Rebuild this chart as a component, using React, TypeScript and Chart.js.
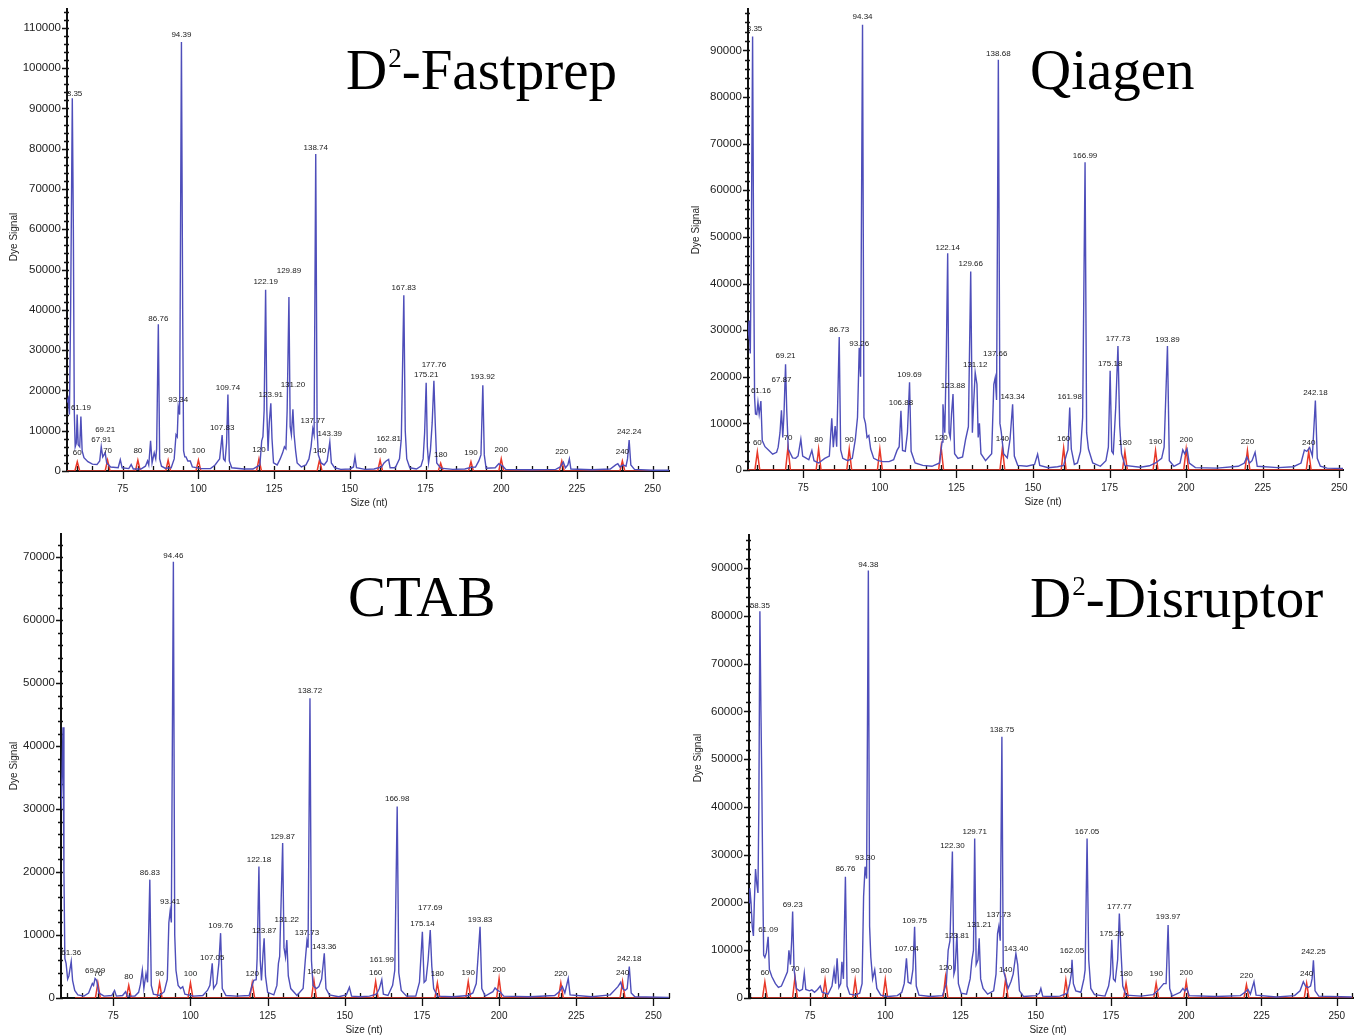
import React, { useEffect, useRef } from "react";
import { Chart, registerables } from "chart.js";
Chart.register(...registerables);

type Pt = [number, number];

// ---------------- shared ticks / size standard ----------------
const xTickValues = [75, 100, 125, 150, 175, 200, 225, 250];
const stdSizes = [60, 70, 80, 90, 100, 120, 140, 160, 180, 190, 200, 220, 240];
const stdSizesCtab = [70, 80, 90, 100, 120, 140, 160, 180, 190, 200, 220, 240];

const yTicksFastprep = [0, 10000, 20000, 30000, 40000, 50000, 60000, 70000, 80000, 90000, 100000, 110000];
const yTicksQiagen = [0, 10000, 20000, 30000, 40000, 50000, 60000, 70000, 80000, 90000];
const yTicksCtab = [0, 10000, 20000, 30000, 40000, 50000, 60000, 70000];
const yTicksDisruptor = [0, 10000, 20000, 30000, 40000, 50000, 60000, 70000, 80000, 90000];

// ---------------- D2-Fastprep ----------------
const fastprepTrace: Pt[] = [
  [56.6, 17000], [57.0, 18000], [57.4, 14000], [57.8, 40000], [58.35, 92500], [58.7, 60000], [59.0, 15000],
  [59.3, 6000], [59.7, 7000], [59.95, 14000], [60.3, 6500], [60.8, 6000], [61.19, 13500], [61.6, 5000],
  [62.2, 3300], [63.5, 2300], [65, 1700], [66.5, 1600], [67.4, 2500], [67.91, 6000], [68.4, 3500],
  [69.21, 4500], [69.7, 2000], [71, 1000], [73.5, 800], [74.2, 2800], [74.8, 800], [77, 600], [77.8, 1600],
  [78.5, 500], [81, 500], [82.5, 1200], [83.2, 2500], [83.6, 1500], [84.2, 7500], [84.7, 2000], [85.4, 4500],
  [85.9, 3000], [86.2, 5500], [86.76, 36400], [87.2, 3000], [87.8, 1200], [89, 700], [91, 800], [92.0, 3000],
  [92.6, 9000], [93.0, 8500], [93.34, 16000], [93.8, 14000], [94.39, 106500], [94.8, 40000], [95.1, 5000],
  [95.5, 3500], [95.9, 3500], [96.5, 2500], [97.3, 2500], [98, 1000], [101, 600], [104, 600], [105.5, 1500],
  [106.5, 2500], [107.0, 3000], [107.83, 8900], [108.3, 3000], [108.8, 2500], [109.3, 7000], [109.74, 19000],
  [110.2, 2500], [111, 800], [115, 500], [118, 500], [120.3, 1500], [120.9, 7500], [121.3, 8500], [121.7, 15000],
  [122.19, 45000], [122.6, 15000], [123.0, 5000], [123.4, 12000], [123.91, 16800], [124.3, 8000], [124.8, 2000],
  [126, 1500], [127, 3000], [127.8, 4500], [128.4, 6000], [128.9, 5500], [129.3, 15000], [129.89, 43200],
  [130.3, 11000], [130.7, 9000], [131.2, 15300], [131.6, 9000], [132.1, 5000], [132.6, 2000], [134, 1000],
  [135.5, 1500], [136.5, 3000], [137.2, 6000], [137.77, 10500], [138.2, 9000], [138.74, 78700], [139.2, 10000],
  [139.6, 4000], [140.5, 2000], [141.5, 1500], [142.5, 2500], [143.39, 7200], [143.9, 2000], [145, 800],
  [147, 400], [150, 500], [151.2, 1000], [151.7, 3500], [152.2, 800], [155, 400], [158, 500], [160.5, 1000],
  [161.3, 2000], [162.0, 2500], [162.81, 2900], [163.3, 800], [165, 800], [166.4, 3000], [167.0, 8000],
  [167.83, 43600], [168.3, 10000], [168.8, 3000], [169.8, 800], [172, 500], [173.5, 1200], [174.2, 3000],
  [174.7, 9500], [175.21, 21900], [175.6, 6000], [176.0, 2000], [176.6, 5000], [177.2, 12000], [177.76, 22400],
  [178.2, 12000], [178.7, 2000], [180, 700], [184, 400], [188, 500], [190, 900], [191.5, 1000], [192.6, 2500],
  [193.3, 4000], [193.92, 21300], [194.4, 4000], [195, 700], [198, 800], [199.2, 1800], [199.8, 1500],
  [200.5, 1200], [201.5, 400], [210, 300], [218, 400], [219.5, 1000], [220.5, 2200], [221.2, 800], [222.0, 1500],
  [222.5, 3000], [223, 500], [230, 300], [236, 500], [237.8, 1500], [238.5, 1800], [239.2, 1000], [240.3, 1500],
  [241.2, 1200], [241.7, 3000], [242.24, 7700], [242.8, 1500], [244, 400], [250, 200], [255.5, 200],
];
const fastprepStdHeights = [2300, 2700, 2700, 2700, 2700, 3000, 2800, 2700, 1900, 2300, 3000, 2500, 2500];
// [peak size (label text), label height]
const fastprepLabels: Pt[] = [
  [58.35, 93700], [61.19, 15700], [67.91, 7700], [69.21, 10200], [86.76, 37800], [93.34, 17600],
  [94.39, 108300], [107.83, 10600], [109.74, 20700], [122.19, 46900], [123.91, 18800], [129.89, 49600],
  [131.2, 21300], [137.77, 12400], [138.74, 80300], [143.39, 9300], [162.81, 8100], [167.83, 45500],
  [175.21, 23800], [177.76, 26400], [193.92, 23400], [242.24, 9700],
];

// ---------------- Qiagen ----------------
const qiagenTrace: Pt[] = [
  [56.9, 28000], [57.3, 32000], [57.7, 25000], [58.0, 45000], [58.45, 93000], [58.8, 45000], [59.1, 15600],
  [59.4, 12000], [59.8, 11900], [60.2, 14500], [60.6, 12000], [61.16, 14800], [61.6, 6300], [62.5, 5000],
  [63.8, 4200], [65, 3400], [66.3, 3800], [66.8, 4900], [67.4, 8000], [67.87, 12800], [68.3, 7000],
  [68.7, 12000], [69.21, 22700], [69.6, 12700], [70.1, 4500], [71.5, 2600], [72.5, 2500], [73.3, 3000],
  [74.2, 6600], [74.8, 3000], [75.8, 2600], [76.8, 2200], [77.8, 4200], [78.5, 2000], [80, 1500], [82, 2500],
  [83.5, 3000], [84.3, 11100], [84.8, 4900], [85.4, 9400], [85.9, 5000], [86.73, 28500], [87.2, 4300],
  [87.9, 2500], [89.5, 2000], [91.0, 2500], [92.0, 6600], [92.7, 11300], [93.26, 26200], [93.7, 20000],
  [94.34, 95500], [94.8, 11300], [95.3, 10000], [95.8, 7000], [96.4, 7400], [97.0, 4500], [98.0, 2500],
  [99.5, 2000], [101, 1800], [103, 1800], [104.5, 2200], [105.6, 4200], [106.3, 5000], [106.88, 12700],
  [107.4, 4200], [108.3, 4000], [109.0, 8000], [109.69, 18800], [110.2, 4000], [111.5, 1500], [114, 1000],
  [117, 800], [119.5, 1500], [120.3, 6000], [120.6, 14100], [121.2, 8000], [121.7, 25000], [122.14, 46500],
  [122.6, 8000], [123.0, 7000], [123.4, 12000], [123.88, 16300], [124.4, 3500], [125.5, 2500], [127, 2800],
  [128.0, 6600], [128.9, 9300], [129.66, 42600], [130.2, 8000], [130.6, 14000], [131.12, 20900], [131.7, 18400],
  [132.1, 7000], [132.5, 10000], [133.0, 3500], [134.5, 2000], [136.5, 3500], [137.2, 18400], [137.66, 19800],
  [138.1, 15000], [138.68, 88000], [139.2, 10000], [139.6, 8300], [140.4, 3500], [141.6, 2600], [142.5, 6600],
  [143.34, 14100], [143.9, 3000], [145, 1000], [148, 800], [150.5, 1200], [151.5, 3400], [152.2, 1000],
  [155, 500], [158, 700], [160.0, 1000], [161.0, 3500], [161.4, 4300], [161.98, 13400], [162.5, 4500],
  [163.5, 1200], [164.5, 1500], [165.5, 4000], [166.2, 11200], [166.99, 66000], [167.5, 8000], [168.1, 4500],
  [169.5, 1500], [172, 800], [173.8, 2000], [174.6, 4900], [175.18, 21300], [175.7, 4000], [176.2, 3500],
  [177.0, 13400], [177.73, 26600], [178.3, 9500], [178.9, 3500], [180, 1000], [185, 600], [188, 900],
  [190, 1500], [192.0, 2500], [192.8, 4900], [193.89, 26600], [194.5, 2000], [196, 800], [198, 1500],
  [198.9, 4300], [199.5, 3500], [200.3, 4500], [201, 1500], [203, 500], [210, 400], [217, 800], [219.0, 1500],
  [219.8, 2800], [220.7, 1500], [221.5, 2000], [222.5, 3800], [223.2, 800], [230, 500], [235, 700],
  [237.5, 1500], [238.6, 4300], [239.4, 4000], [240.3, 4800], [241.2, 3000], [242.18, 14900], [242.8, 2500],
  [243.8, 800], [246, 400], [252, 300],
];
const qiagenStdHeights = [3900, 4900, 4500, 4500, 4500, 4900, 4700, 4700, 3900, 4200, 4500, 4200, 3900];
const qiagenLabels: Pt[] = [
  [58.35, 94600], [61.16, 17000], [67.87, 19300], [69.21, 24600], [86.73, 30000], [93.26, 27000],
  [94.34, 97100], [106.88, 14500], [109.69, 20400], [122.14, 47600], [123.88, 18100], [129.66, 44300],
  [131.12, 22500], [137.66, 25000], [138.68, 89300], [143.34, 15800], [161.98, 15800], [166.99, 67400],
  [175.18, 22800], [177.73, 28200], [193.89, 28000], [242.18, 16500],
];

// ---------------- CTAB ----------------
const ctabTrace: Pt[] = [
  [58.05, 30000], [58.4, 36000], [58.7, 43000], [59.0, 20000], [59.3, 6300], [59.7, 5500], [60.2, 3000],
  [60.6, 3500], [61.36, 5800], [61.8, 2800], [62.5, 1200], [63.5, 500], [65.5, 300], [67.0, 800], [68.2, 2300],
  [68.6, 2000], [69.09, 3100], [69.6, 2800], [70.3, 800], [72, 300], [74.5, 400], [75.4, 1200], [76, 300],
  [78, 400], [79, 1000], [79.5, 300], [82, 300], [83.2, 900], [83.8, 2200], [84.4, 4400], [84.9, 1500],
  [85.6, 3900], [86.1, 2500], [86.83, 18800], [87.3, 2000], [88.0, 600], [90, 400], [91.5, 1000], [92.5, 3000],
  [93.0, 12000], [93.41, 13800], [93.8, 12000], [94.46, 69300], [94.9, 10000], [95.3, 4400], [96.0, 2000],
  [96.8, 1500], [97.5, 1800], [98.2, 600], [101, 300], [104, 400], [105.5, 1200], [106.3, 2000], [107.05, 5500],
  [107.5, 1500], [108.5, 2300], [109.2, 5500], [109.76, 10300], [110.3, 1500], [111.5, 400], [115, 300],
  [119, 400], [120.5, 2800], [121.3, 2900], [121.6, 6300], [122.18, 20900], [122.6, 6000], [123.0, 2800],
  [123.5, 7000], [123.87, 9500], [124.3, 3500], [125, 900], [127, 500], [128.0, 2000], [128.5, 5500],
  [128.9, 6600], [129.3, 14000], [129.87, 24600], [130.3, 8000], [130.8, 6500], [131.22, 9200], [131.7, 3500],
  [132.5, 1500], [134.5, 400], [136.5, 1500], [137.2, 6000], [137.73, 9000], [138.1, 8000], [138.72, 47600],
  [139.2, 6000], [139.7, 2000], [140.8, 1500], [141.6, 1800], [142.5, 3000], [143.36, 7100], [143.9, 1500],
  [145, 500], [148, 200], [150.5, 500], [151.5, 1700], [152.2, 300], [155, 200], [158, 300], [160.3, 600],
  [161.2, 1500], [161.99, 2900], [162.5, 600], [164, 400], [165.5, 2000], [166.2, 4400], [166.98, 30400],
  [167.5, 4000], [168.3, 1200], [170, 300], [173, 300], [174.2, 2500], [175.14, 10500], [175.7, 2500],
  [176.3, 2800], [177.0, 6000], [177.69, 10800], [178.2, 5000], [178.8, 1500], [180, 300], [185, 200],
  [190, 400], [191.5, 800], [192.6, 2300], [193.83, 11300], [194.4, 1500], [195.5, 300], [198, 1000],
  [198.7, 1600], [199.5, 1200], [200.3, 1000], [201.5, 300], [210, 200], [218, 400], [219.5, 1000],
  [220.5, 1800], [221.3, 800], [222.4, 3100], [223, 500], [230, 200], [236, 500], [238.5, 1800], [239.4, 2500],
  [240.0, 1500], [240.8, 1200], [241.5, 1500], [242.18, 5000], [242.8, 800], [244, 200], [255, 100],
];
const ctabStdHeights = [2400, 2000, 2400, 2400, 2400, 2800, 2600, 2400, 2600, 3100, 2400, 2600];
const ctabLabels: Pt[] = [
  [61.36, 7200], [69.09, 4300], [86.83, 19900], [93.41, 15300], [94.46, 70200], [107.05, 6400],
  [109.76, 11400], [122.18, 21900], [123.87, 10700], [129.87, 25600], [131.22, 12400], [137.73, 10300],
  [138.72, 48800], [143.36, 8200], [161.99, 6100], [166.98, 31600], [175.14, 11800], [177.69, 14300],
  [193.83, 12500], [242.18, 6300],
];

// ---------------- D2-Disruptor ----------------
const disruptorTrace: Pt[] = [
  [54.73, 20000], [55.0, 23000], [55.4, 20000], [55.8, 15000], [56.2, 13000], [56.5, 20000], [56.9, 27000],
  [57.3, 24000], [57.7, 22000], [58.0, 40000], [58.35, 81000], [58.7, 60000], [59.0, 44200], [59.3, 25000],
  [59.6, 9000], [60.0, 8500], [60.5, 9500], [61.09, 12800], [61.5, 6000], [62.3, 4500], [63.5, 3000],
  [64.5, 2200], [65.5, 2500], [66.5, 4000], [67.5, 5500], [68.0, 10000], [68.5, 7000], [68.9, 12000],
  [69.23, 18100], [69.7, 6000], [70.5, 2000], [71.5, 1500], [72.5, 1800], [73.1, 5200], [73.6, 1800],
  [74.8, 1500], [75.6, 1700], [76.5, 1200], [77.5, 1800], [78.4, 2500], [79, 1200], [81, 800], [82.3, 2500],
  [83.0, 5900], [83.5, 3000], [84.0, 8300], [84.6, 2200], [85.2, 3000], [85.6, 7600], [86.1, 4000],
  [86.76, 25400], [87.3, 2500], [88.2, 800], [90, 600], [91.5, 1000], [92.3, 3000], [92.8, 21200], [93.3, 27500],
  [93.8, 25000], [94.38, 89500], [94.8, 15000], [95.2, 8600], [95.8, 4000], [96.5, 5900], [97.2, 2000],
  [98.5, 600], [101, 300], [104, 500], [105.5, 1200], [106.3, 3000], [107.04, 8300], [107.6, 3300],
  [108.5, 3000], [109.2, 6000], [109.75, 14900], [110.3, 2500], [111.2, 600], [115, 300], [119, 500],
  [120.3, 3000], [120.9, 10000], [121.5, 12000], [122.3, 30700], [122.8, 5000], [123.2, 6000], [123.81, 13500],
  [124.3, 3000], [125.2, 1000], [127, 800], [128.2, 4000], [128.8, 8000], [129.3, 10000], [129.71, 33400],
  [130.2, 7000], [130.8, 8000], [131.21, 12500], [131.7, 4000], [132.5, 2000], [134, 800], [136, 1500],
  [136.8, 5000], [137.3, 13500], [137.73, 15000], [138.2, 12000], [138.75, 54700], [139.2, 6000], [139.8, 4500],
  [140.8, 2000], [141.8, 3500], [142.5, 5000], [143.4, 9300], [144.0, 7000], [144.6, 1500], [146, 300],
  [150, 500], [151.2, 1000], [151.7, 2000], [152.3, 400], [155, 300], [158, 400], [160.5, 1000], [161.3, 3000],
  [161.8, 5000], [162.05, 8000], [162.5, 3000], [163.3, 1500], [165, 1200], [166.0, 4000], [166.4, 5900],
  [167.05, 33400], [167.6, 8000], [168.3, 2000], [169.5, 700], [173, 400], [174.2, 2500], [174.8, 5000],
  [175.26, 12200], [175.8, 4000], [176.4, 3500], [177.2, 8000], [177.77, 17700], [178.3, 10000], [178.9, 2500],
  [180, 600], [185, 400], [189, 700], [190.5, 1500], [192.5, 3000], [193.3, 3000], [193.97, 15300],
  [194.5, 2000], [195.3, 400], [198, 1200], [198.9, 2000], [199.5, 1500], [200.2, 2000], [201, 500], [210, 300],
  [218, 500], [219.5, 1200], [220.5, 1800], [221.3, 800], [222.5, 3400], [223.2, 600], [230, 200], [236, 500],
  [237.8, 1500], [238.9, 3400], [239.6, 2500], [240.5, 2200], [241.3, 2500], [241.8, 4000], [242.25, 7900],
  [242.8, 1500], [244, 400], [255, 200],
];
const disruptorStdHeights = [3400, 4300, 3800, 3800, 3900, 4400, 4100, 3800, 3100, 3100, 3400, 2800, 3100];
const disruptorLabels: Pt[] = [
  [58.35, 82100], [61.09, 14200], [69.23, 19500], [86.76, 27000], [93.3, 29400], [94.38, 90800],
  [107.04, 10200], [109.75, 16100], [122.3, 31900], [123.81, 13100], [129.71, 34800], [131.21, 15300],
  [137.73, 17500], [138.75, 56100], [143.4, 10400], [162.05, 9800], [167.05, 34800], [175.26, 13500],
  [177.77, 19100], [193.97, 17000], [242.25, 9700],
];

// ---------------- panel layout ----------------
interface PanelDef {
  key: string;
  titleLead: string; // text before superscript
  titleSup: string; // superscript part
  titleRest: string;
  left: number; top: number; w: number; h: number;
  ca: { l: number; t: number; r: number; b: number };
  xMin: number; xMax: number; yMax: number;
  yTicks: number[];
  trace: Pt[];
  stdSizes: number[]; stdHeights: number[]; stdStart: number;
  labels: Pt[];
  titlePos: [number, number];
  dyePos: [number, number];
  sizePos: [number, number];
}

const panels: PanelDef[] = [
  {
    key: "fastprep", titleLead: "D", titleSup: "2", titleRest: "-Fastprep", left: 0, top: 0, w: 677, h: 518,
    ca: { l: 67, t: 8, r: 669, b: 471 }, xMin: 56.6, xMax: 255.4, yMax: 114700,
    yTicks: yTicksFastprep, trace: fastprepTrace, stdSizes, stdHeights: fastprepStdHeights, stdStart: 56.6,
    labels: fastprepLabels, titlePos: [346, 89], dyePos: [14, 237], sizePos: [369, 503],
  },
  {
    key: "qiagen", titleLead: "Qiagen", titleSup: "", titleRest: "", left: 677, top: 0, w: 678, h: 518,
    ca: { l: 71, t: 7, r: 666, b: 470 }, xMin: 56.95, xMax: 251.2, yMax: 98900,
    yTicks: yTicksQiagen, trace: qiagenTrace, stdSizes, stdHeights: qiagenStdHeights, stdStart: 56.95,
    labels: qiagenLabels, titlePos: [353, 89], dyePos: [19, 230], sizePos: [366, 502],
  },
  {
    key: "ctab", titleLead: "CTAB", titleSup: "", titleRest: "", left: 0, top: 518, w: 677, h: 518,
    ca: { l: 61, t: 16, r: 669, b: 480 }, xMin: 58.05, xMax: 255.05, yMax: 73700,
    yTicks: yTicksCtab, trace: ctabTrace, stdSizes: stdSizesCtab, stdHeights: ctabStdHeights, stdStart: 62.6,
    labels: ctabLabels, titlePos: [348, 98], dyePos: [14, 248], sizePos: [364, 512],
  },
  {
    key: "disruptor", titleLead: "D", titleSup: "2", titleRest: "-Disruptor", left: 677, top: 518, w: 678, h: 518,
    ca: { l: 72, t: 17, r: 676, b: 480 }, xMin: 54.73, xMax: 255.4, yMax: 96960,
    yTicks: yTicksDisruptor, trace: disruptorTrace, stdSizes, stdHeights: disruptorStdHeights, stdStart: 55.6,
    labels: disruptorLabels, titlePos: [353, 99], dyePos: [21, 240], sizePos: [371, 512],
  },
];

const SANS = '"Liberation Sans", Arial, Helvetica, sans-serif';
const SERIF = '"Liberation Serif", "Times New Roman", Times, serif';
const BLUE = "rgb(78,78,186)";
const RED = "rgb(232,56,40)";

function stdTrace(start: number, end: number, sizes: number[], heights: number[]) {
  const pts: { x: number; y: number }[] = [{ x: start, y: 0 }];
  sizes.forEach((s, i) => {
    pts.push({ x: s - 0.8, y: 0 }, { x: s, y: heights[i] }, { x: s + 0.8, y: 0 });
  });
  pts.push({ x: end, y: 0 });
  return pts;
}

function decorPlugin(p: PanelDef) {
  return {
    id: "decor-" + p.key,
    beforeDatasetsDraw(chart: any) {
      const { ctx, chartArea: ca } = chart;
      const xs = chart.scales.x;
      const ys = chart.scales.y;
      ctx.save();
      ctx.strokeStyle = "#111";
      ctx.lineWidth = 1.3;
      ctx.beginPath();
      for (let v = Math.ceil(p.xMin / 5) * 5; v <= p.xMax; v += 5) {
        const px = Math.round(xs.getPixelForValue(v)) + 0.5;
        const major = v % 25 === 0;
        ctx.moveTo(px, ca.bottom - 5);
        ctx.lineTo(px, ca.bottom + (major ? 8 : 0));
      }
      for (let v = 0; v <= p.yMax; v += 2000) {
        const py = Math.round(ys.getPixelForValue(v)) + 0.5;
        const major = v % 10000 === 0;
        ctx.moveTo(ca.left - (major ? 5 : 3), py);
        ctx.lineTo(ca.left + 2, py);
      }
      ctx.stroke();
      ctx.restore();
    },
    afterDatasetsDraw(chart: any) {
      const { ctx, chartArea: ca } = chart;
      const xs = chart.scales.x;
      const ys = chart.scales.y;
      ctx.save();
      ctx.beginPath();
      ctx.rect(ca.left + 1, 0, ca.right - ca.left, chart.height);
      ctx.clip();
      ctx.font = "8px " + SANS;
      ctx.fillStyle = "#1a1a1a";
      ctx.textAlign = "center";
      ctx.textBaseline = "middle";
      p.labels.forEach(([s, hgt]) => {
        ctx.fillText(s.toFixed(2), xs.getPixelForValue(s), ys.getPixelForValue(hgt));
      });
      p.stdSizes.forEach((s, i) => {
        ctx.fillText(String(s), xs.getPixelForValue(s), ys.getPixelForValue(p.stdHeights[i]) - 9);
      });
      ctx.restore();
    },
    afterDraw(chart: any) {
      const { ctx } = chart;
      ctx.save();
      ctx.fillStyle = "#000";
      ctx.textAlign = "left";
      ctx.textBaseline = "alphabetic";
      let x = p.titlePos[0];
      const y = p.titlePos[1];
      ctx.font = "57px " + SERIF;
      ctx.fillText(p.titleLead, x, y);
      x += ctx.measureText(p.titleLead).width;
      if (p.titleSup) {
        ctx.font = "27px " + SERIF;
        ctx.fillText(p.titleSup, x + 1, y - 22);
        x += ctx.measureText(p.titleSup).width + 1;
        ctx.font = "57px " + SERIF;
        ctx.fillText(p.titleRest, x, y);
      }
      ctx.fillStyle = "#222";
      ctx.font = "10px " + SANS;
      ctx.textAlign = "center";
      ctx.textBaseline = "middle";
      ctx.fillText("Size (nt)", p.sizePos[0], p.sizePos[1]);
      ctx.translate(p.dyePos[0], p.dyePos[1]);
      ctx.rotate(-Math.PI / 2);
      ctx.fillText("Dye Signal", 0, 0);
      ctx.restore();
    },
  };
}

function ChartPanel({ def }: { def: PanelDef }) {
  const ref = useRef<HTMLCanvasElement | null>(null);
  useEffect(() => {
    const canvas = ref.current;
    if (!canvas) return;
    const chart = new Chart(canvas, {
      type: "line",
      data: {
        datasets: [
          {
            data: def.trace.map(([x, y]) => ({ x, y })),
            borderColor: BLUE,
            borderWidth: 1.4,
            pointRadius: 0,
            tension: 0,
            fill: false,
          },
          {
            data: stdTrace(def.stdStart, def.xMax, def.stdSizes, def.stdHeights),
            borderColor: RED,
            borderWidth: 1.5,
            pointRadius: 0,
            tension: 0,
            fill: false,
          },
        ],
      },
      options: {
        animation: false,
        responsive: false,
        maintainAspectRatio: false,
        events: [],
        layout: { padding: { left: 0, top: def.ca.t, right: def.w - def.ca.r, bottom: 0 } },
        plugins: { legend: { display: false }, tooltip: { enabled: false }, title: { display: false } },
        scales: {
          x: {
            type: "linear",
            min: def.xMin,
            max: def.xMax,
            afterBuildTicks: (s: any) => {
              s.ticks = xTickValues.map((v) => ({ value: v }));
            },
            afterFit: (s: any) => {
              s.height = def.h - def.ca.b;
            },
            grid: { display: false, drawTicks: true, tickLength: 8 },
            border: { display: true, color: "#111", width: 2 },
            ticks: {
              autoSkip: false,
              maxRotation: 0,
              padding: 4,
              color: "#222",
              font: { family: SANS, size: 10 },
              callback: (v: any) => String(v),
            },
          },
          y: {
            type: "linear",
            min: 0,
            max: def.yMax,
            afterBuildTicks: (s: any) => {
              s.ticks = def.yTicks.map((v) => ({ value: v }));
            },
            afterFit: (s: any) => {
              s.width = def.ca.l;
            },
            grid: { display: false, drawTicks: true, tickLength: 4 },
            border: { display: true, color: "#111", width: 2 },
            ticks: {
              autoSkip: false,
              padding: 2,
              color: "#222",
              font: { family: SANS, size: 11.5 },
              callback: (v: any) => String(v),
            },
          },
        },
      },
      plugins: [decorPlugin(def)],
    } as any);
    return () => chart.destroy();
  }, [def]);
  return (
    <canvas
      ref={ref}
      width={def.w}
      height={def.h}
      style={{ position: "absolute", left: def.left, top: def.top, width: def.w, height: def.h }}
    />
  );
}

export default function App() {
  return (
    <div
      style={{
        position: "absolute",
        left: 0,
        top: 0,
        width: 1355,
        height: 1036,
        background: "#fff",
        overflow: "hidden",
      }}
    >
      {panels.map((p) => (
        <ChartPanel key={p.key} def={p} />
      ))}
    </div>
  );
}
